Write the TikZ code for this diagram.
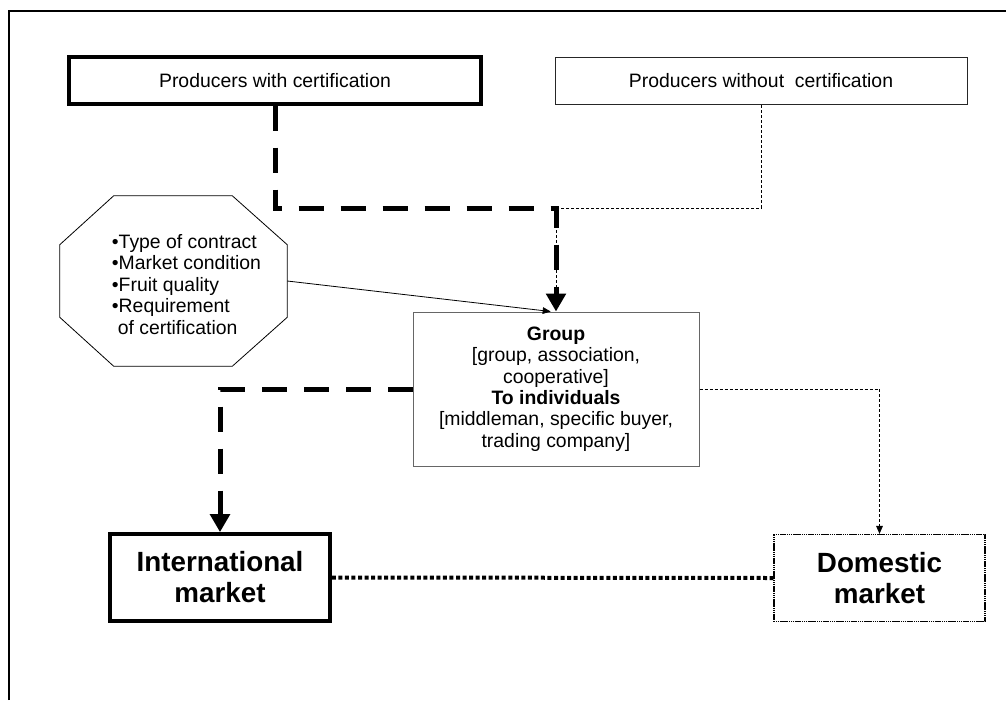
\documentclass[tikz,border=0pt]{standalone}
\usepackage{fontspec}
\setmainfont{Liberation Sans}
\usetikzlibrary{positioning,arrows.meta,calc}
\newdimen\pxu \pxu=0.75pt

\begin{document}
\begin{tikzpicture}[x=0.75pt,y=-0.75pt,
  prod/.style={draw,inner sep=0pt,minimum width=412\pxu,minimum height=47\pxu,font=\fontsize{14.55}{16.1}\selectfont},
  mkt/.style={draw,inner sep=0pt,align=center,minimum height=87\pxu,font=\fontsize{20.85}{23.25}\selectfont\bfseries},
  certline/.style={line width=3.75pt,dash pattern=on 18.75pt off 12.75pt},
  plainline/.style={line width=0.75pt,dash pattern=on 2.25pt off 1.5pt},
  bigtip/.style={-{Triangle[length=13.5pt,width=14.5pt]}},
  smalltip/.style={-{Triangle[length=6pt,width=5pt]}}
]
\useasboundingbox (0,0) rectangle (1006,700);
\draw[line width=1.5pt] (9,700) -- (9,11) -- (1006,11);

% producers
\node[prod,line width=2.6pt] (pcert) at (275,80.5) {Producers with certification};
\node[prod,draw=black!85,line width=0.75pt] (pnocert) at (761,81) {Producers without\ \ certification};

% criteria octagon
\node[inner sep=0pt,minimum width=227\pxu,minimum height=170\pxu,font=\fontsize{14.55}{16.1}\selectfont] (crit) at (173.5,281)
  {\raisebox{-6\pxu}[\height][\depth]{\begin{tabular}{@{\hspace{26\pxu}}l@{}}
  •Type of contract\\
  •Market condition\\
  •Fruit quality\\
  •Requirement\\
  \hspace*{0.3em}of certification
  \end{tabular}}};
\draw[line width=0.6pt] ([xshift=54\pxu]crit.north west) -- ([xshift=-55\pxu]crit.north east)
  -- ([yshift=-49\pxu]crit.north east) -- ([yshift=49\pxu]crit.south east)
  -- ([xshift=-55\pxu]crit.south east) -- ([xshift=54\pxu]crit.south west)
  -- ([yshift=49\pxu]crit.south west) -- ([yshift=-49\pxu]crit.north west) -- cycle;

% buyers
\node[draw=black!60,line width=0.75pt,align=center,inner sep=0pt,minimum width=286\pxu,minimum height=154\pxu,font=\fontsize{14.55}{16.1}\selectfont] (grp) at (556,389)
  {\textbf{Group}\\ {[}group, association,\\ cooperative{]}\\ \textbf{To individuals}\\ {[}middleman, specific buyer,\\ trading company{]}};

% markets
\node[mkt,line width=2.8pt,minimum width=220\pxu] (intl) at (220,577.5) {International\\ market};
\node[mkt,line width=0.9pt,dash pattern=on 1pt off 0.4pt,minimum width=211\pxu] (dom) at (879.5,578) {Domestic\\ market};

\coordinate (jn) at (556,208);

\draw[certline,bigtip] (pcert.south) |- (jn) -- (grp.north);
\draw[plainline] (pnocert.south) |- (jn) -- ([yshift=10pt]grp.north);
\draw[line width=0.6pt,smalltip] (crit.east) -- ([xshift=-4pt]grp.north);
\draw[certline,bigtip] (grp.west) -| (intl.north);
\draw[plainline,smalltip] (grp.east) -| (dom.north);
\draw[line width=3pt,dash pattern=on 3pt off 1.9pt] (intl.east) -- (dom.west);
\end{tikzpicture}
\end{document}
